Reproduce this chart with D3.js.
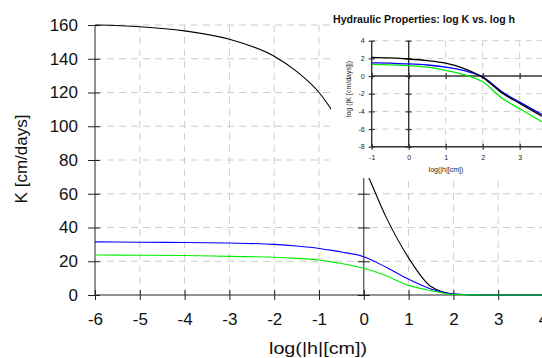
<!DOCTYPE html>
<html>
<head>
<meta charset="utf-8">
<script src="https://cdn.jsdelivr.net/npm/d3@7"></script>
<style>
  html, body { margin: 0; padding: 0; background: #fff; }
  svg { display: block; font-family: "Liberation Sans", Arial, sans-serif; }
</style>
</head>
<body>
<svg id="chart" width="542" height="358"></svg>
<script>
// Main chart: hydraulic conductivity K vs log|h|
const logH = [-6, -5, -4, -3, -2, -1.5, -1, -0.75, -0.5, 0, 0.5, 1, 1.5, 2, 2.5, 3, 4];
const kBlack = [160, 159, 156.5, 151.5, 141.5, 132.5, 120, 111, 100, 76, 46, 22, 5, 0.6, 0.1, 0, 0];
const kBlue  = [31.5, 31.3, 31.1, 30.8, 30, 29, 27.6, 26.6, 25.5, 22.7, 16.4, 9.3, 3.6, 0.6, 0.1, 0, 0];
const kGreen = [23.7, 23.6, 23.4, 22.9, 22.4, 21.7, 20.7, 19.8, 18.7, 15.8, 11.4, 5.7, 2.6, 0.3, 0.05, 0, 0];
const xTicks = [-6, -5, -4, -3, -2, -1, 0, 1, 2, 3, 4];
const yTicks = [0, 20, 40, 60, 80, 100, 120, 140, 160];

// Inset: log K vs log|h|
const insetLogH = [-1, -0.5, 0, 0.5, 1, 1.5, 2, 2.5, 3, 3.6];
const logKBlack = [2.12, 2.05, 1.93, 1.75, 1.45, 0.85, -0.15, -1.85, -3.1, -4.54];
const logKBlue  = [1.5, 1.45, 1.38, 1.25, 1.0, 0.6, -0.1, -1.72, -2.95, -4.35];
const logKGreen = [1.32, 1.27, 1.18, 1.0, 0.65, 0.15, -0.65, -2.45, -3.7, -5.18];
const insetXTicks = [-1, 0, 1, 2, 3];
const insetYTicks = [4, 2, 0, -2, -4, -6, -8];

const svg = d3.select("#chart");
const gridColor = "#cdcdcd";
const axisColor = "#222";
const fmt = d => String(d);   // plain hyphen-minus for negative ticks

// ---------- main chart ----------
const x = d3.scaleLinear().domain([-6, 4]).range([95, 543]);
const y = d3.scaleLinear().domain([0, 160]).range([295, 25]);

const grid = svg.append("g").attr("stroke", gridColor).attr("stroke-width", 1)
  .attr("stroke-dasharray", "7,5");
grid.selectAll("line.v").data(xTicks.filter(d => d !== -6 && d !== 0 && d !== 4))
  .join("line").attr("class", "v")
  .attr("x1", d => x(d)).attr("x2", d => x(d))
  .attr("y1", y(160)).attr("y2", y(0));
grid.selectAll("line.h").data(yTicks.filter(d => d !== 0))
  .join("line").attr("class", "h")
  .attr("x1", x(-6)).attr("x2", x(4))
  .attr("y1", d => y(d)).attr("y2", d => y(d));

function styleAxis(g, fontSize) {
  g.select(".domain").remove();
  g.selectAll(".tick line").attr("stroke", axisColor).attr("stroke-width", 1);
  g.selectAll(".tick text").attr("fill", "#111").attr("font-size", fontSize)
    .attr("font-family", "'Liberation Sans', Arial, sans-serif");
}

// left axis
const yAxisG = svg.append("g").attr("transform", `translate(${x(-6)},0)`)
  .call(d3.axisLeft(y).tickValues(yTicks).tickSize(7).tickPadding(10).tickFormat(fmt));
styleAxis(yAxisG, 17);
yAxisG.selectAll(".tick line").attr("x1", 5);
yAxisG.append("line").attr("y1", y(160)).attr("y2", y(0))
  .attr("stroke", axisColor).attr("stroke-width", 1);

// secondary vertical axis at log|h| = 0
const y0AxisG = svg.append("g").attr("transform", `translate(${x(0)},0)`)
  .call(d3.axisLeft(y).tickValues(yTicks).tickSize(6).tickFormat(""));
styleAxis(y0AxisG, 17);
y0AxisG.selectAll(".tick line").attr("x1", 6);
y0AxisG.append("line").attr("y1", y(160)).attr("y2", y(0))
  .attr("stroke", axisColor).attr("stroke-width", 1);

// bottom axis
const xAxisG = svg.append("g").attr("transform", `translate(0,${y(0)})`)
  .call(d3.axisBottom(x).tickValues(xTicks).tickSize(5).tickPadding(13).tickFormat(fmt));
styleAxis(xAxisG, 17);
xAxisG.selectAll(".tick line").attr("y1", -5);
xAxisG.append("line").attr("x1", x(-6)).attr("x2", x(4))
  .attr("stroke", axisColor).attr("stroke-width", 1.2);

// curves
const line = d3.line().x(d => x(d[0])).y(d => y(d[1])).curve(d3.curveMonotoneX);
const series = [
  { v: kBlack, c: "#000000" },
  { v: kBlue, c: "#0000ff" },
  { v: kGreen, c: "#00ee00" }
];
svg.append("g").selectAll("path").data(series).join("path")
  .attr("d", s => line(logH.map((h, i) => [h, s.v[i]])))
  .attr("fill", "none").attr("stroke", s => s.c).attr("stroke-width", 1.1);

// axis titles
svg.append("text").attr("x", 318).attr("y", 354).attr("text-anchor", "middle")
  .attr("font-size", 17).attr("fill", "#111")
  .attr("textLength", 98).attr("lengthAdjust", "spacingAndGlyphs")
  .text("log(|h|[cm])");
svg.append("text").attr("transform", "translate(27,159) rotate(-90)")
  .attr("text-anchor", "middle").attr("font-size", 17).attr("fill", "#111")
  .text("K [cm/days]");

// ---------- inset ----------
const inset = svg.append("g");
inset.append("rect").attr("x", 331).attr("y", 8).attr("width", 211).attr("height", 170)
  .attr("fill", "#fff");

const ix = d3.scaleLinear().domain([-1, 3]).range([371.7, 519.7]);
const iy = d3.scaleLinear().domain([-8, 4]).range([146.7, 40.7]);
const iRight = 542;

inset.append("defs").append("clipPath").attr("id", "insetClip")
  .append("rect").attr("x", ix(-1)).attr("y", iy(4) - 2)
  .attr("width", iRight - ix(-1)).attr("height", iy(-8) - iy(4) + 4);

const igrid = inset.append("g").attr("stroke", gridColor).attr("stroke-width", 1)
  .attr("stroke-dasharray", "6,5");
igrid.selectAll("line.v").data([1, 2, 3]).join("line").attr("class", "v")
  .attr("x1", d => ix(d)).attr("x2", d => ix(d))
  .attr("y1", iy(4)).attr("y2", iy(-8));
igrid.selectAll("line.h").data([4, 2, -2, -4, -6]).join("line").attr("class", "h")
  .attr("x1", ix(-1)).attr("x2", iRight)
  .attr("y1", d => iy(d)).attr("y2", d => iy(d));

const iAxisColor = "#333";
function insetVAxis(at, labels) {
  const g = inset.append("g").attr("transform", `translate(${ix(at)},0)`)
    .call(d3.axisLeft(iy).tickValues(insetYTicks).tickSize(3).tickPadding(4)
      .tickFormat(labels ? fmt : ""));
  g.select(".domain").remove();
  g.selectAll(".tick line").attr("x1", 3).attr("stroke", iAxisColor).attr("stroke-width", 1.2);
  g.selectAll(".tick text").attr("font-size", 7).attr("fill", "#222")
    .attr("font-family", "'Liberation Sans', Arial, sans-serif");
  g.append("line").attr("y1", iy(4)).attr("y2", iy(-8))
    .attr("stroke", iAxisColor).attr("stroke-width", 1.4);
}
function insetHAxis(at, labels) {
  const g = inset.append("g").attr("transform", `translate(0,${iy(at)})`)
    .call(d3.axisBottom(ix).tickValues(insetXTicks).tickSize(3).tickPadding(5)
      .tickFormat(labels ? fmt : ""));
  g.select(".domain").remove();
  g.selectAll(".tick line").attr("y1", -3).attr("stroke", iAxisColor).attr("stroke-width", 1.2);
  g.selectAll(".tick text").attr("font-size", 7).attr("fill", "#222")
    .attr("font-family", "'Liberation Sans', Arial, sans-serif");
  g.append("line").attr("x1", ix(-1)).attr("x2", iRight)
    .attr("stroke", iAxisColor).attr("stroke-width", 1.4);
}
insetVAxis(-1, true);
insetVAxis(0, false);
insetHAxis(0, false);
insetHAxis(-8, true);

const iline = d3.line().x(d => ix(d[0])).y(d => iy(d[1])).curve(d3.curveMonotoneX);
const iseries = [
  { v: logKGreen, c: "#00ee00" },
  { v: logKBlue, c: "#0000ff" },
  { v: logKBlack, c: "#000000" }
];
inset.append("g").attr("clip-path", "url(#insetClip)")
  .selectAll("path").data(iseries).join("path")
  .attr("d", s => iline(insetLogH.map((h, i) => [h, s.v[i]])))
  .attr("fill", "none").attr("stroke", s => s.c).attr("stroke-width", 1.3);

inset.append("text").attr("x", 333).attr("y", 23)
  .attr("font-size", 11).attr("font-weight", "bold").attr("fill", "#111")
  .attr("textLength", 182).attr("lengthAdjust", "spacingAndGlyphs")
  .text("Hydraulic Properties:  log K  vs. log h");
inset.append("text").attr("x", 446).attr("y", 172).attr("text-anchor", "middle")
  .attr("font-size", 7).attr("fill", "#222").text("log(|h|[cm])");
inset.append("text").attr("transform", "translate(351,89) rotate(-90)")
  .attr("text-anchor", "middle").attr("font-size", 7).attr("fill", "#222")
  .text("log (|K [cm/days]|)");
</script>
</body>
</html>
